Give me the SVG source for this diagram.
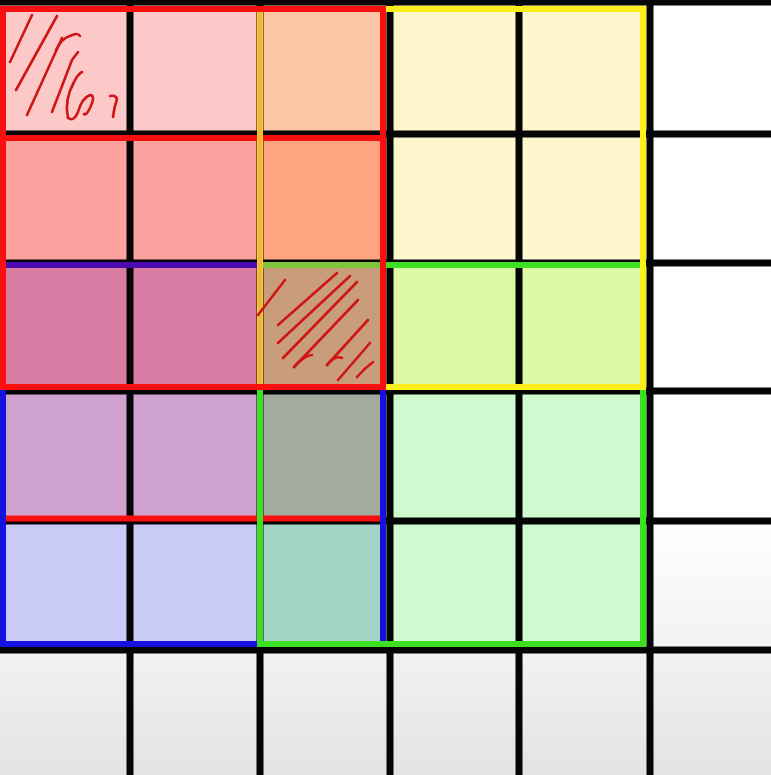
<svg xmlns="http://www.w3.org/2000/svg" width="771" height="775" viewBox="0 0 771 775">
  <defs>
    <linearGradient id="grey" x1="0" y1="0" x2="0" y2="1">
      <stop offset="0" stop-color="#f2f2f2"/>
      <stop offset="1" stop-color="#e3e3e3"/>
    </linearGradient>
    <linearGradient id="fade" x1="0" y1="0" x2="0" y2="1">
      <stop offset="0" stop-color="#ffffff"/>
      <stop offset="1" stop-color="#f1f1f1"/>
    </linearGradient>
  </defs>
  <style>
    .grid { stroke: #050505; stroke-width: 7; fill: none; }
    .box { fill: none; stroke-width: 6; }
    .red { stroke: #f81010; }
    .blue { stroke: #1512e0; }
    .green { stroke: #3ee024; }
    .yellow { stroke: #fbee1c; }
    .scribble { fill: none; stroke: #d01515; stroke-width: 2.6; stroke-linecap: round; stroke-linejoin: round; }
  </style>

  <g id="cells">
    <rect x="0" y="0" width="771" height="775" fill="#ffffff"/>
    <rect x="0" y="0" width="260" height="134" fill="#fdc9c8"/>
    <rect x="260" y="0" width="130" height="134" fill="#fdc6a6"/>
    <rect x="390" y="0" width="260" height="134" fill="#fef7cd"/>
    <rect x="0" y="134" width="260" height="129" fill="#fca39f"/>
    <rect x="260" y="134" width="130" height="129" fill="#fea480"/>
    <rect x="390" y="134" width="260" height="129" fill="#fef7cd"/>
    <rect x="0" y="263" width="260" height="128" fill="#d97ca3"/>
    <rect x="260" y="263" width="130" height="128" fill="#c99d7c"/>
    <rect x="390" y="263" width="260" height="128" fill="#dcf9a3"/>
    <rect x="0" y="391" width="260" height="130" fill="#cfa2cf"/>
    <rect x="260" y="391" width="130" height="130" fill="#a2ab9e"/>
    <rect x="390" y="391" width="260" height="130" fill="#cffacf"/>
    <rect x="0" y="521" width="260" height="129" fill="#cacaf7"/>
    <rect x="260" y="521" width="130" height="129" fill="#a2d5c6"/>
    <rect x="390" y="521" width="260" height="129" fill="#cffacf"/>
    <rect x="650" y="521" width="121" height="129" fill="url(#fade)"/>
    <rect x="0" y="650" width="771" height="125" fill="url(#grey)"/>
  </g>

  <g id="grid-lines" class="grid">
    <line x1="0" y1="2.5" x2="771" y2="2.5" stroke-width="6"/>
    <line x1="0" y1="134" x2="771" y2="134"/>
    <line x1="0" y1="263" x2="771" y2="263"/>
    <line x1="0" y1="391" x2="771" y2="391"/>
    <line x1="0" y1="521" x2="771" y2="521"/>
    <line x1="0" y1="650" x2="771" y2="650"/>
    <line x1="130" y1="0" x2="130" y2="775"/>
    <line x1="260" y1="0" x2="260" y2="775"/>
    <line x1="390" y1="0" x2="390" y2="775"/>
    <line x1="519" y1="0" x2="519" y2="775"/>
    <line x1="650" y1="0" x2="650" y2="775"/>
  </g>

  <g id="box-red-b">
    <rect class="box red" x="3" y="138" width="380" height="380.5" stroke-width="4"/>
  </g>
  <g id="box-blue">
    <rect class="box blue" x="3" y="265" width="380" height="379"/>
    <line x1="3" y1="265" x2="260" y2="265" stroke="#4a0cb0" stroke-width="6"/>
  </g>
  <g id="box-green">
    <rect class="box green" x="260" y="265" width="383" height="379"/>
    <line x1="260" y1="265" x2="383" y2="265" stroke="#80c43a" stroke-width="6"/>
  </g>
  <g id="box-yellow">
    <rect class="box yellow" x="260" y="9" width="383" height="378"/>
    <line x1="260" y1="9" x2="260" y2="387" stroke="#f6b634" stroke-width="5"/>
  </g>
  <g id="box-red-a">
    <rect class="box red" x="3" y="9" width="380" height="378"/>
  </g>

  <g id="scribble-cell-0-0" class="scribble">
    <path d="M10 62 L32 15"/>
    <path d="M16 90 L57 16"/>
    <path d="M27 115 L62 38"/>
    <path d="M56 50 Q62 38 70 36 Q78 32 80 36"/>
    <path d="M52 112 L72 60 L78 52"/>
    <path d="M68 118 Q64 100 74 82 Q78 74 82 72"/>
    <path d="M68 118 Q74 122 78 112 Q82 98 90 95 Q96 95 90 108 Q86 116 84 114"/>
    <path d="M110 96 Q116 95 117 99 Q114 108 113 117"/>
  </g>

  <g id="scribble-cell-2-2" class="scribble">
    <path d="M258 315 L285 280"/>
    <path d="M278 325 L337 273"/>
    <path d="M278 343 L350 276"/>
    <path d="M283 358 L357 282"/>
    <path d="M294 367 Q305 355 312 355"/>
    <path d="M294 367 L358 300"/>
    <path d="M327 365 L368 320"/>
    <path d="M327 365 Q335 355 342 358"/>
    <path d="M338 380 L370 343"/>
    <path d="M357 377 Q365 368 373 362"/>
  </g>
</svg>
